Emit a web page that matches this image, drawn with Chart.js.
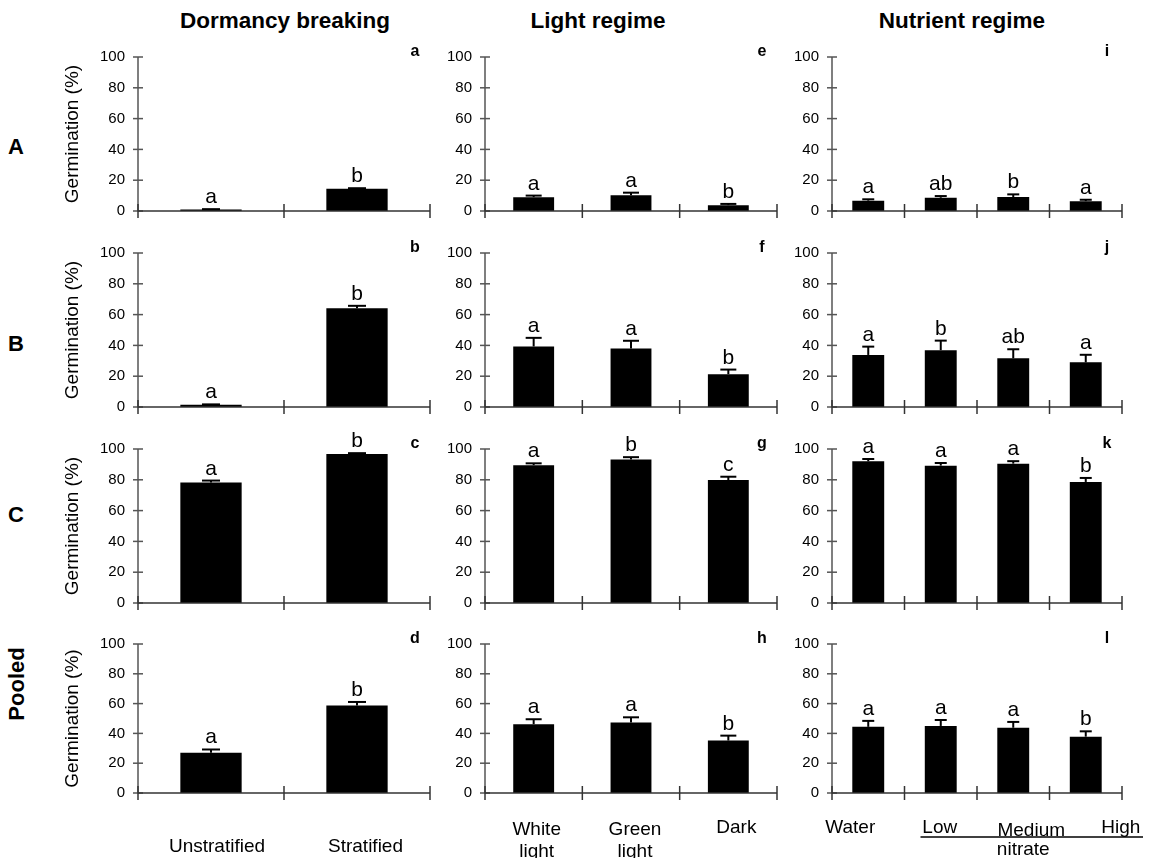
<!DOCTYPE html>
<html><head><meta charset="utf-8">
<script src="https://cdn.jsdelivr.net/npm/chart.js@4.4.1/dist/chart.umd.min.js"></script>
<style>
body{margin:0;background:#fff;width:1158px;height:858px;position:relative;overflow:hidden;font-family:'Liberation Sans',Arial,sans-serif;color:#000;}
canvas{position:absolute;}
.t{position:absolute;font-weight:bold;white-space:nowrap;line-height:1;transform:translate(-50%,-50%);}
</style></head><body>
<script>
// ---------- data ----------
const dormancyCategories = ['Unstratified', 'Stratified'];
const lightCategories = ['White light', 'Green light', 'Dark'];
const nutrientCategories = ['Water', 'Low', 'Medium', 'High'];
const rowLabels = ['A', 'B', 'C', 'Pooled'];
const columnTitles = ['Dormancy breaking', 'Light regime', 'Nutrient regime'];
const panelLetters = [['a','e','i'], ['b','f','j'], ['c','g','k'], ['d','h','l']];
const yTickValues = [0, 20, 40, 60, 80, 100];
const yAxisTitle = 'Germination (%)';
const nitrateLabel = 'nitrate';

// Row A
const dormancyA = [1.0, 14.5];
const dormancyAErr = [0.2, 0.3];
const dormancyASig = ['a', 'b'];
const lightA = [9.0, 10.3, 3.8];
const lightAErr = [1.0, 1.6, 0.8];
const lightASig = ['a', 'a', 'b'];
const nutrientA = [6.7, 8.6, 9.1, 6.4];
const nutrientAErr = [0.9, 1.1, 1.7, 0.9];
const nutrientASig = ['a', 'ab', 'b', 'a'];

// Row B
const dormancyB = [1.5, 64.2];
const dormancyBErr = [0.2, 1.5];
const dormancyBSig = ['a', 'b'];
const lightB = [39.3, 38.0, 21.3];
const lightBErr = [5.6, 5.0, 3.0];
const lightBSig = ['a', 'a', 'b'];
const nutrientB = [33.8, 36.9, 31.6, 29.0];
const nutrientBErr = [5.4, 6.2, 5.9, 4.9];
const nutrientBSig = ['a', 'b', 'ab', 'a'];

// Row C
const dormancyC = [78.2, 96.8];
const dormancyCErr = [1.3, 0.5];
const dormancyCSig = ['a', 'b'];
const lightC = [89.5, 93.2, 79.8];
const lightCErr = [1.2, 1.5, 2.2];
const lightCSig = ['a', 'b', 'c'];
const nutrientC = [92.0, 89.2, 90.5, 78.6];
const nutrientCErr = [1.5, 1.7, 1.6, 2.6];
const nutrientCSig = ['a', 'a', 'a', 'b'];

// Pooled
const dormancyD = [27.0, 58.7];
const dormancyDErr = [2.2, 2.4];
const dormancyDSig = ['a', 'b'];
const lightD = [46.2, 47.3, 35.2];
const lightDErr = [3.3, 3.5, 3.3];
const lightDSig = ['a', 'a', 'b'];
const nutrientD = [44.4, 45.0, 43.8, 37.8];
const nutrientDErr = [4.0, 4.0, 3.9, 3.6];
const nutrientDSig = ['a', 'a', 'a', 'b'];

// ---------- layout ----------
const FONT = "'Liberation Sans', Arial, sans-serif";
Chart.defaults.font.family = FONT;
Chart.defaults.color = '#000';

const rowsGeom = [{y100:57,y0:211},{y100:253,y0:407},{y100:449,y0:603},{y100:644,y0:793}];
const colsGeom = [
  {x0:138, x1:430, yw:98, padR:6,  barPct:0.42, cap:18},
  {x0:485, x1:777, yw:50, padR:6,  barPct:0.42, cap:16},
  {x0:832, x1:1122, yw:50, padR:36, barPct:0.44, cap:12}
];
const xLabelLayout = [
  {dx:[6, 8.5], base:[59, 59]},
  {dx:[3, 4, 8], base:[42, 42, 40]},
  {dx:[-18, -1, 18, 35], base:[40, 40, 42.5, 40]}
];

const categoriesByCol = [dormancyCategories, lightCategories, nutrientCategories];
const grid = [
  [[dormancyA, dormancyAErr, dormancyASig], [lightA, lightAErr, lightASig], [nutrientA, nutrientAErr, nutrientASig]],
  [[dormancyB, dormancyBErr, dormancyBSig], [lightB, lightBErr, lightBSig], [nutrientB, nutrientBErr, nutrientBSig]],
  [[dormancyC, dormancyCErr, dormancyCSig], [lightC, lightCErr, lightCSig], [nutrientC, nutrientCErr, nutrientCSig]],
  [[dormancyD, dormancyDErr, dormancyDSig], [lightD, lightDErr, lightDSig], [nutrientD, nutrientDErr, nutrientDSig]]
];

// ---------- html text ----------
function addText(txt, cx, cy, size, extra) {
  const d = document.createElement('div');
  d.className = 't';
  d.textContent = txt;
  d.style.left = cx + 'px';
  d.style.top = cy + 'px';
  d.style.fontSize = size + 'px';
  if (extra) d.style.transform = 'translate(-50%,-50%) ' + extra;
  document.body.appendChild(d);
}
addText(columnTitles[0], 285, 21, 22.5);
addText(columnTitles[1], 598, 21, 22.5);
addText(columnTitles[2], 962, 21, 22.5);
addText(rowLabels[0], 16, 147, 22);
addText(rowLabels[1], 16, 344, 22);
addText(rowLabels[2], 16, 515, 22);
addText(rowLabels[3], 17, 684, 22, 'rotate(-90deg)');

// ---------- plugin ----------
const panelDecor = {
  id: 'panelDecor',
  afterDatasetsDraw(chart, args, o) {
    const {ctx, chartArea: a, scales: {x, y}} = chart;
    const line = (x1, y1, x2, y2) => { ctx.beginPath(); ctx.moveTo(x1, y1); ctx.lineTo(x2, y2); ctx.stroke(); };
    ctx.save();
    // axes
    const y0 = y.getPixelForValue(0);
    const yTop = y.getPixelForValue(100);
    ctx.strokeStyle = '#555';
    ctx.lineWidth = 1.5;
    line(a.left, y0, a.left, yTop);
    y.ticks.forEach(t => { const py = y.getPixelForValue(t.value); line(a.left - 5, py, a.left + 5, py); });
    ctx.strokeStyle = '#333';
    line(a.left, y0, a.right, y0);
    const n = chart.data.labels.length;
    for (let i = 0; i <= n; i++) {
      const bx = i === 0 ? a.left : i === n ? a.right : (x.getPixelForValue(i - 1) + x.getPixelForValue(i)) / 2;
      line(bx, y0 - 7, bx, y0 + 7);
    }
    // error bars and significance letters
    const meta = chart.getDatasetMeta(0);
    const vals = chart.data.datasets[0].data;
    ctx.strokeStyle = '#000';
    ctx.fillStyle = '#000';
    ctx.lineWidth = 2;
    ctx.font = '21px ' + FONT;
    ctx.textAlign = 'center';
    ctx.textBaseline = 'alphabetic';
    meta.data.forEach((bar, i) => {
      const top = y.getPixelForValue(vals[i] + o.errs[i]);
      line(bar.x, bar.y, bar.x, top);
      line(bar.x - o.cap / 2, top, bar.x + o.cap / 2, top);
      ctx.fillText(o.letters[i], bar.x, top - 6);
    });
    // panel letter
    ctx.font = 'bold 16px ' + FONT;
    ctx.fillText(o.panelLetter, a.right - 15, yTop - 1);
    // x labels (bottom row)
    if (o.xLab) {
      ctx.font = '19px ' + FONT;
      const L = o.xLab;
      chart.data.labels.forEach((lab, i) => {
        const cx = x.getPixelForValue(i) + L.dx[i];
        const parts = o.col === 1 ? lab.split(' ') : [lab];
        parts.forEach((p, k) => ctx.fillText(p, cx, y0 + L.base[i] + k * 22));
      });
      if (o.col === 2) {
        const b1 = (x.getPixelForValue(0) + x.getPixelForValue(1)) / 2;
        ctx.lineWidth = 1.5;
        line(b1 + 16, y0 + 44, a.right + 21, y0 + 44);
        ctx.fillText(nitrateLabel, x.getPixelForValue(2) + 10, y0 + 62);
      }
    }
    ctx.restore();
  }
};

// ---------- charts ----------
for (let r = 0; r < 4; r++) {
  for (let c = 0; c < 3; c++) {
    const R = rowsGeom[r], C = colsGeom[c];
    const padTop = 28;
    const xh = r === 3 ? 66 : 28;
    const cv = document.createElement('canvas');
    const w = (C.x1 - C.x0) + C.yw + C.padR;
    const h = padTop + (R.y0 - R.y100) + xh;
    cv.width = w; cv.height = h;
    cv.style.left = (C.x0 - C.yw) + 'px';
    cv.style.top = (R.y100 - padTop) + 'px';
    cv.style.width = w + 'px'; cv.style.height = h + 'px';
    document.body.appendChild(cv);
    const [vals, errs, letters] = grid[r][c];
    new Chart(cv, {
      type: 'bar',
      data: {
        labels: categoriesByCol[c],
        datasets: [{
          data: vals,
          backgroundColor: '#000',
          borderWidth: 0,
          barPercentage: C.barPct,
          categoryPercentage: 1
        }]
      },
      options: {
        responsive: false,
        animation: false,
        devicePixelRatio: 1,
        layout: {padding: {top: padTop, right: C.padR, left: 0, bottom: 0}},
        plugins: {
          legend: {display: false},
          tooltip: {enabled: false},
          panelDecor: {
            errs, letters, cap: C.cap, col: c,
            panelLetter: panelLetters[r][c],
            xLab: r === 3 ? xLabelLayout[c] : null
          }
        },
        scales: {
          x: {
            grid: {display: false, drawTicks: false},
            border: {display: false},
            ticks: {display: false},
            afterFit: s => { s.height = xh; }
          },
          y: {
            min: 0, max: 100,
            grid: {display: false, drawTicks: false},
            border: {display: false},
            afterBuildTicks: s => { s.ticks = yTickValues.map(v => ({value: v})); },
            ticks: {font: {size: 15}, color: '#000', padding: 13},
            title: c === 0 ? {display: true, text: yAxisTitle, font: {size: 19}, color: '#000', padding: {top: 21, bottom: 0}} : {display: false},
            afterFit: s => { s.width = C.yw; }
          }
        }
      },
      plugins: [panelDecor]
    });
  }
}
</script>
</body></html>
